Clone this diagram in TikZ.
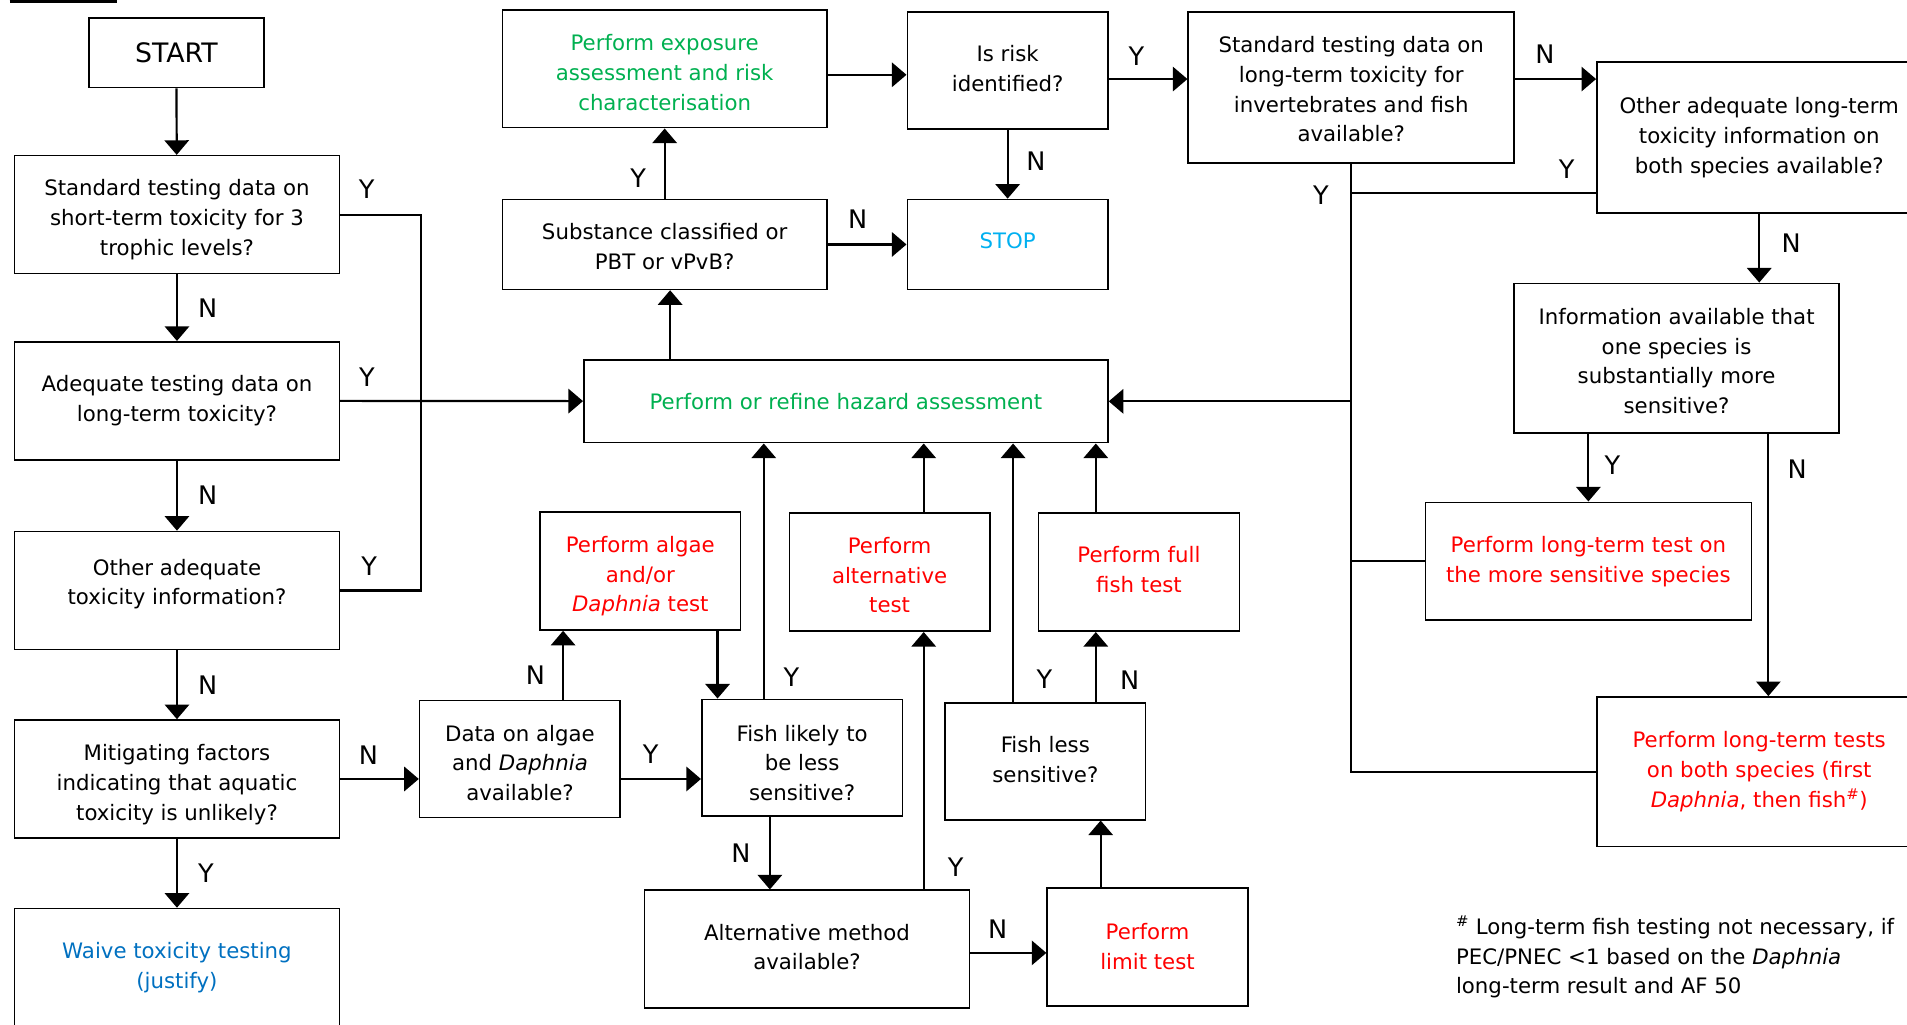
\documentclass[tikz,border=0pt]{standalone}
\usepackage{fontspec}
\setmainfont{DejaVu Sans}
\usetikzlibrary{arrows.meta, positioning}

\definecolor{hazgreen}{RGB}{0,176,80}
\definecolor{testred}{RGB}{255,0,0}
\definecolor{stopblue}{RGB}{0,176,240}
\definecolor{waiveblue}{RGB}{0,112,192}
\newcommand{\boxsink}[1]{\rule{0pt}{#1}}

\begin{document}
\begin{tikzpicture}[x=1pt, y=-1pt,
        box/.style={draw, rectangle, line width=1.3pt, align=center, inner sep=0pt, font=\fontsize{17.5}{24.5}\selectfont},
        wide/.style={box, minimum width=267pt, minimum height=97pt},
        narrow/.style={box, minimum width=165pt, minimum height=97pt},
        rise/.style={execute at end node={\rule[-#1]{0pt}{0pt}}},
        arrow/.style={-{Triangle[length=12pt, width=20pt]}, line width=1.8pt},
        link/.style={line width=1.8pt},
        yn/.style={font=\fontsize{21}{25}\selectfont, inner sep=0pt}
    ]
        \useasboundingbox (0,0) rectangle (1568,842);
        \draw[line width=2.5pt] (8,1) -- (96,1);

        % Left column
        \node[box, minimum width=144pt, minimum height=57pt, font=\fontsize{22}{26}\selectfont] (start) at (145,43.5) {START};
        \node[wide] (short) at (145.5,176.5) {\boxsink{21pt}Standard testing data on\\short-term toxicity for 3\\trophic levels?};
        \node[wide] (adeq) at (145.5,329.5) {Adequate testing data on\\long-term toxicity?};
        \node[wide, rise=14pt] (otheradeq) at (145.5,485.5) {Other adequate\\toxicity information?};
        \node[wide] (mitig) at (145.5,640.5) {\boxsink{23pt}Mitigating factors\\indicating that aquatic\\toxicity is unlikely?};
        \node[wide, text=waiveblue] (waive) at (145.5,795.5) {Waive toxicity testing\\(justify)};

        % Middle
        \node[wide, text=hazgreen] (expo) at (546.5,56.5) {\boxsink{20pt}Perform exposure\\assessment and risk\\characterisation};
        \node[narrow, rise=3pt, minimum height=96pt] (risk) at (828.5,58) {Is risk\\identified?};
        \node[wide, minimum height=74pt] (subst) at (546.5,201) {\boxsink{17pt}Substance classified or\\PBT or vPvB?};
        \node[narrow, rise=6pt, minimum height=74pt, text=stopblue] (stop) at (828.5,201) {STOP};
        \node[box, minimum width=431pt, minimum height=68pt, text=hazgreen] (hazard) at (695.5,330) {Perform or refine hazard assessment};
        \node[narrow, text=testred] (algae) at (526.5,469.5) {\boxsink{22pt}Perform algae\\and/or\\\textit{Daphnia} test};
        \node[narrow, text=testred] (alttest) at (731.5,470.5) {\boxsink{18pt}Perform\\alternative\\test};
        \node[narrow, rise=5pt, text=testred] (fullfish) at (936.5,470.5) {Perform full\\fish test};
        \node[narrow, minimum height=96pt] (dataalg) at (427.5,624) {\boxsink{20pt}Data on algae\\and \textit{Daphnia}\\available?};
        \node[narrow, minimum height=96pt] (fishlikely) at (659.5,623) {\boxsink{22pt}Fish likely to\\be less\\sensitive?};
        \node[narrow, rise=3pt, minimum height=96pt] (fishless) at (859.5,626) {Fish less\\sensitive?};
        \node[wide, rise=4pt] (altmeth) at (663.5,780.5) {Alternative method\\available?};
        \node[narrow, text=testred] (limit) at (943.5,778.5) {Perform\\limit test};

        % Right
        \node[wide, minimum width=268pt, minimum height=124pt] (stdlong) at (1111,72) {\boxsink{16pt}Standard testing data on\\long-term toxicity for\\invertebrates and fish\\available?};
        \node[wide, minimum height=124pt] (otherlong) at (1446.5,113) {Other adequate long-term\\toxicity information on\\both species available?};
        \node[wide, minimum height=123pt] (infosens) at (1378.5,294.5) {\boxsink{18pt}Information available that\\one species is\\substantially more\\sensitive?};
        \node[wide, minimum width=268pt, text=testred] (ltsens) at (1306,461.5) {Perform long-term test on\\the more sensitive species};
        \node[wide, minimum height=123pt, text=testred] (ltboth) at (1446.5,634.5) {Perform long-term tests\\on both species (first\\\textit{Daphnia}, then fish\textsuperscript{\#})};
        \node[align=left, anchor=west, inner sep=0pt, font=\fontsize{17.5}{24.5}\selectfont] (note) at (1197,787) {\textsuperscript{\#} Long-term fish testing not necessary, if\\PEC/PNEC <1 based on the \textit{Daphnia}\\long-term result and AF 50};

        % Ports
        \coordinate (ybus) at (346,330);
        \coordinate (rbus) at (1110.5,330);
        \coordinate (xalg) at (463,0);
        \coordinate (xdown) at (590,0);
        \coordinate (xfl) at (628,0);
        \coordinate (xflN) at (633,0);
        \coordinate (xalt) at (759.5,0);
        \coordinate (xfls) at (833,0);
        \coordinate (xfull) at (901,0);
        \coordinate (xlim) at (905,0);
        \coordinate (xhaz) at (551,0);
        \coordinate (xboth) at (1454,0);
        \coordinate (ylim) at (0,783.5);
        \coordinate (yexp) at (0,61.5);
        \coordinate (ytop) at (0,65);
        \coordinate (yoth) at (0,159);

        % Arrows
        \draw[arrow] (start) -- (short);
        \draw[arrow] (short) -- node[yn, right=16.5pt] {N} (adeq);
        \draw[arrow] (adeq) -- node[yn, right=16.5pt] {N} (otheradeq);
        \draw[arrow] (otheradeq) -- node[yn, right=16.5pt] {N} (mitig);
        \draw[arrow] (mitig) -- node[yn, right=16.5pt] {Y} (waive);
        \draw[link] (short.east) -- node[yn, pos=0.33, above=12pt] {Y} (short.east -| ybus) -- (ybus |- otheradeq.east) -- node[yn, pos=0.64, above=11pt] {Y} (otheradeq.east);
        \draw[arrow] (adeq) -- node[yn, pos=0.11, above=11pt] {Y} (hazard);

        \draw[arrow] (mitig.east) -- node[yn, pos=0.36, above=11pt] {N} (mitig.east -| dataalg.west);
        \draw[arrow] (dataalg.north -| xalg) -- node[yn, pos=0.35, left=14pt] {N} (algae.south -| xalg);
        \draw[arrow] (dataalg.east |- mitig.east) -- node[yn, pos=0.37, above=12pt] {Y} (fishlikely.west |- mitig.east);
        \draw[arrow] (algae.south -| xdown) -- (fishlikely.north -| xdown);
        \draw[arrow] (fishlikely.north -| xfl) -- node[yn, pos=0.085, right=15.5pt] {Y} (hazard.south -| xfl);
        \draw[arrow] (fishlikely.south -| xflN) -- node[yn, left=15pt] {N} (altmeth.north -| xflN);
        \draw[arrow] (altmeth.north -| xalt) -- node[yn, pos=0.085, right=19pt] {Y} (alttest.south -| xalt);
        \draw[arrow] (alttest.north -| xalt) -- (hazard.south -| xalt);
        \draw[arrow] (altmeth.east |- ylim) -- node[yn, pos=0.36, above=11pt] {N} (limit.west |- ylim);
        \draw[arrow] (limit.north -| xlim) -- (fishless.south -| xlim);
        \draw[arrow] (fishless.north -| xfls) -- node[yn, pos=0.09, right=18.5pt] {Y} (hazard.south -| xfls);
        \draw[arrow] (fishless.north -| xfull) -- node[yn, pos=0.32, right=19pt] {N} (fullfish.south -| xfull);
        \draw[arrow] (fullfish.north -| xfull) -- (hazard.south -| xfull);

        \draw[arrow] (hazard.north -| xhaz) -- (subst.south -| xhaz);
        \draw[arrow] (subst) -- node[yn, pos=0.29, left=14.5pt] {Y} (expo);
        \draw[arrow] (subst) -- node[yn, pos=0.38, above=12pt] {N} (stop);
        \draw[arrow] (expo.east |- yexp) -- (risk.west |- yexp);
        \draw[arrow] (risk) -- node[yn, pos=0.45, right=14.5pt] {N} (stop);
        \draw[arrow] (risk.east |- ytop) -- node[yn, pos=0.35, above=10.5pt] {Y} (stdlong.west |- ytop);
        \draw[arrow] (stdlong.east |- ytop) -- node[yn, pos=0.37, above=12pt] {N} (otherlong.west |- ytop);

        \draw[link] (stdlong.south -| rbus) -- node[yn, pos=0.052, left=17pt] {Y} (rbus |- ltboth.west) -- (ltboth.west);
        \draw[link] (otherlong.west |- yoth) -- node[yn, pos=0.12, above=11pt] {Y} (rbus |- yoth);
        \draw[link] (ltsens.west) -- (ltsens.west -| rbus);
        \draw[arrow] (rbus) -- (hazard.east);
        \draw[arrow] (otherlong) -- node[yn, pos=0.43, right=17.5pt] {N} (otherlong |- infosens.north);
        \draw[arrow] (infosens.south -| ltsens) -- node[yn, pos=0.47, right=12.5pt] {Y} (ltsens);
        \draw[arrow] (infosens.south -| xboth) -- node[yn, pos=0.134, right=15pt] {N} (ltboth.north -| xboth);
    \end{tikzpicture}
\end{document}
